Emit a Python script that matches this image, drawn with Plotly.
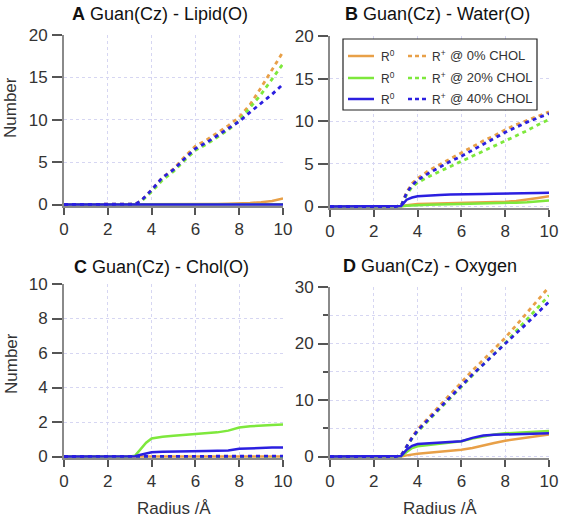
import plotly.graph_objects as go

# ---------------- data ----------------
radius = [0, 3.0, 3.25, 3.5, 3.75, 4.0, 4.5, 5.0, 5.5, 6.0, 6.5, 7.0, 7.5, 8.0, 8.5, 9.0, 9.5, 10.0]

# Panel A: Guan(Cz) - Lipid(O)
lipid_r0_0 = [0, 0, 0, 0, 0, 0, 0, 0, 0, 0.02, 0.04, 0.06, 0.09, 0.12, 0.18, 0.27, 0.42, 0.7]
lipid_r0_20 = [0, 0, 0, 0, 0, 0, 0, 0, 0, 0, 0, 0, 0, 0, 0, 0.01, 0.02, 0.03]
lipid_r0_40 = [0] * 18
lipid_rp_0 = [0, 0, 0.05, 0.4, 1.0, 1.7, 3.2, 4.2, 5.6, 6.9, 7.6, 8.4, 9.3, 10.3, 11.8, 13.8, 15.9, 18.0]
lipid_rp_20 = [0, 0, 0.03, 0.3, 0.9, 1.5, 2.9, 3.9, 5.2, 6.4, 7.1, 7.9, 8.8, 9.9, 11.4, 13.0, 14.8, 16.6]
lipid_rp_40 = [0, 0, 0.05, 0.4, 1.0, 1.7, 3.2, 4.1, 5.4, 6.6, 7.3, 8.1, 8.9, 9.8, 10.9, 11.9, 13.0, 14.2]

# Panel B: Guan(Cz) - Water(O)
water_r0_0 = [0, 0, 0.02, 0.15, 0.25, 0.3, 0.32, 0.35, 0.37, 0.4, 0.42, 0.45, 0.5, 0.55, 0.65, 0.8, 1.0, 1.2]
water_r0_20 = [0, 0, 0.02, 0.1, 0.15, 0.2, 0.22, 0.25, 0.27, 0.3, 0.32, 0.35, 0.38, 0.4, 0.45, 0.5, 0.6, 0.7]
water_r0_40 = [0, 0, 0.05, 0.8, 1.05, 1.2, 1.3, 1.35, 1.4, 1.45, 1.45, 1.48, 1.5, 1.5, 1.52, 1.55, 1.58, 1.6]
water_rp_0 = [0, 0, 0.1, 1.7, 2.7, 3.3, 4.2, 4.9, 5.6, 6.3, 7.0, 7.7, 8.3, 9.0, 9.6, 10.1, 10.6, 11.1]
water_rp_20 = [0, 0, 0.1, 1.4, 2.3, 2.8, 3.5, 4.1, 4.7, 5.3, 5.9, 6.5, 7.1, 7.7, 8.3, 8.9, 9.6, 10.2]
water_rp_40 = [0, 0, 0.1, 1.6, 2.5, 3.1, 3.9, 4.6, 5.3, 5.9, 6.6, 7.3, 8.0, 8.7, 9.3, 9.9, 10.4, 10.9]

# Panel C: Guan(Cz) - Chol(O)
chol_r0_0 = [0] * 18
chol_r0_20 = [0, 0, 0.05, 0.4, 0.8, 1.05, 1.15, 1.2, 1.25, 1.3, 1.35, 1.4, 1.5, 1.68, 1.75, 1.8, 1.83, 1.85]
chol_r0_40 = [0, 0, 0.02, 0.1, 0.18, 0.25, 0.28, 0.3, 0.3, 0.31, 0.32, 0.33, 0.35, 0.45, 0.48, 0.5, 0.52, 0.52]
chol_rp_0 = [0] * 18
chol_rp_20 = [0] * 18
chol_rp_40 = [0, 0, 0, 0.01, 0.01, 0.02, 0.02, 0.02, 0.02, 0.02, 0.02, 0.02, 0.02, 0.02, 0.02, 0.02, 0.02, 0.02]

# Panel D: Guan(Cz) - Oxygen
oxy_r0_0 = [0, 0, 0.02, 0.2, 0.35, 0.5, 0.65, 0.8, 1.0, 1.2, 1.5, 2.0, 2.4, 2.8, 3.1, 3.3, 3.6, 3.9]
oxy_r0_20 = [0, 0, 0.05, 0.8, 1.5, 1.8, 2.0, 2.2, 2.4, 2.7, 3.2, 3.6, 3.9, 4.1, 4.2, 4.3, 4.4, 4.5]
oxy_r0_40 = [0, 0, 0.1, 1.2, 1.9, 2.2, 2.3, 2.4, 2.5, 2.7, 3.3, 3.7, 3.85, 3.9, 4.0, 4.05, 4.1, 4.1]
oxy_rp_0 = [0, 0, 0.2, 1.9, 3.5, 4.8, 6.9, 9.0, 11.1, 13.2, 15.2, 17.1, 19.1, 21.0, 23.2, 25.4, 27.7, 30.0]
oxy_rp_20 = [0, 0, 0.2, 1.7, 3.2, 4.4, 6.4, 8.4, 10.4, 12.4, 14.4, 16.3, 18.2, 20.1, 22.2, 24.3, 26.4, 28.5]
oxy_rp_40 = [0, 0, 0.2, 1.8, 3.3, 4.6, 6.6, 8.6, 10.6, 12.6, 14.5, 16.3, 18.1, 19.9, 21.8, 23.6, 25.5, 27.4]

panel_letters = ["A", "B", "C", "D"]
panel_titles = ["Guan(Cz) - Lipid(O)", "Guan(Cz) - Water(O)", "Guan(Cz) - Chol(O)", "Guan(Cz) - Oxygen"]
chol_labels = ["@ 0% CHOL", "@ 20% CHOL", "@ 40% CHOL"]
x_ticks = [0, 2, 4, 6, 8, 10]
y_max = [20, 20, 10, 30]
y_dtick = [5, 5, 2, 10]

panel_data = [
    [(lipid_r0_0, lipid_rp_0), (lipid_r0_20, lipid_rp_20), (lipid_r0_40, lipid_rp_40)],
    [(water_r0_0, water_rp_0), (water_r0_20, water_rp_20), (water_r0_40, water_rp_40)],
    [(chol_r0_0, chol_rp_0), (chol_r0_20, chol_rp_20), (chol_r0_40, chol_rp_40)],
    [(oxy_r0_0, oxy_rp_0), (oxy_r0_20, oxy_rp_20), (oxy_r0_40, oxy_rp_40)],
]

# ---------------- styling ----------------
W, H = 561, 521
colors = ["#E8A048", "#7EE83C", "#2B1FE0"]
FONT = "Liberation Sans, Arial, sans-serif"
AXIS_COL = "#8a8a8a"
TICK_COL = "#555555"
GRID_COL = "#d6d6f2"
TXT = "#333333"

# plot-area pixel boxes: (left, right, top, bottom)
boxes = [(64, 283, 35, 206), (330, 549, 36, 208), (64, 283, 284, 458), (330, 549, 287, 458)]
title_centers = [(160, 14), (437, 14), (161, 267), (430, 266)]
ytitle_pos = [(11, 108), (11, 364)]
xtitle_pos = [(174, 508), (440, 508)]


def px(x):
    return x / W


def py(y):
    return 1 - y / H


fig = go.Figure()
layout = dict(
    width=W, height=H,
    margin=dict(l=0, r=0, t=0, b=0, autoexpand=False),
    paper_bgcolor="white", plot_bgcolor="white",
    showlegend=False,
    font=dict(family=FONT, color=TXT),
)
annotations = []
shapes = []

for i in range(4):
    xa = "x" if i == 0 else f"x{i+1}"
    ya = "y" if i == 0 else f"y{i+1}"
    for j in range(3):
        r0, rp = panel_data[i][j]
        fig.add_trace(go.Scatter(x=radius, y=r0, mode="lines", xaxis=xa, yaxis=ya,
                                 line=dict(color=colors[j], width=2.5), hoverinfo="skip"))
        fig.add_trace(go.Scatter(x=radius, y=rp, mode="lines", xaxis=xa, yaxis=ya,
                                 line=dict(color=colors[j], width=2.8, dash="4px,4px"), hoverinfo="skip"))
    l, r, t, b = boxes[i]
    ymax = y_max[i]
    pad = ymax / (b - t) * 1.5
    xkey = "xaxis" if i == 0 else f"xaxis{i+1}"
    ykey = "yaxis" if i == 0 else f"yaxis{i+1}"
    layout[xkey] = dict(
        domain=[px(l), px(r)], anchor=ya, range=[0, 10], automargin=False,
        tickvals=x_ticks, ticks="outside", ticklen=7, tickwidth=1.5, tickcolor=TICK_COL,
        showline=True, linecolor=AXIS_COL, linewidth=2, layer="below traces",
        showgrid=True, gridcolor=GRID_COL, griddash="dot", gridwidth=1,
        zeroline=False, tickfont=dict(size=17, color=TXT, family=FONT),
        fixedrange=True,
    )
    ydef = dict(
        domain=[py(b), py(t)], anchor=xa, range=[-pad, ymax], automargin=False,
        tick0=0, dtick=y_dtick[i], ticks="outside", ticklen=10, tickwidth=1.5, tickcolor=TICK_COL,
        showline=True, linecolor=AXIS_COL, linewidth=2, layer="below traces",
        showgrid=True, gridcolor=GRID_COL, griddash="dot", gridwidth=1,
        zeroline=False, tickfont=dict(size=17, color=TXT, family=FONT),
        ticklabelstandoff=1,
        fixedrange=True,
    )
    if i == 3:
        ydef["minor"] = dict(dtick=5, ticks="outside", ticklen=5, tickcolor=TICK_COL,
                             showgrid=True, gridcolor=GRID_COL, griddash="dot")
    layout[ykey] = ydef
    cx, cy = title_centers[i]
    annotations.append(dict(
        x=px(cx), y=py(cy), xref="paper", yref="paper", showarrow=False,
        xanchor="center", yanchor="middle",
        text=f"<b>{panel_letters[i]}</b> {panel_titles[i]}",
        font=dict(size=18, color="#111111", family=FONT),
    ))

# axis titles
for (tx, ty) in ytitle_pos:
    annotations.append(dict(
        x=px(tx), y=py(ty), xref="paper", yref="paper", showarrow=False,
        xanchor="center", yanchor="middle", textangle=-90, text="Number",
        font=dict(size=17, color=TXT, family=FONT),
    ))
for (tx, ty) in xtitle_pos:
    annotations.append(dict(
        x=px(tx), y=py(ty), xref="paper", yref="paper", showarrow=False,
        xanchor="center", yanchor="middle", text="Radius /Å",
        font=dict(size=17, color=TXT, family=FONT),
    ))

# ---------------- legend (drawn inside panel B) ----------------
shapes.append(dict(type="rect", xref="paper", yref="paper",
                   x0=px(343), x1=px(537), y0=py(110), y1=py(39),
                   line=dict(color="#222222", width=1.2), fillcolor="white", layer="above"))
row_y = [56, 78, 99]
for j in range(3):
    yy = py(row_y[j])
    shapes.append(dict(type="line", xref="paper", yref="paper", x0=px(348), x1=px(374), y0=yy, y1=yy,
                       line=dict(color=colors[j], width=2.5), layer="above"))
    shapes.append(dict(type="line", xref="paper", yref="paper", x0=px(408), x1=px(428), y0=yy, y1=yy,
                       line=dict(color=colors[j], width=2.5, dash="4px,3px"), layer="above"))
    annotations.append(dict(x=px(379), y=yy, xref="paper", yref="paper", showarrow=False,
                            xanchor="left", yanchor="middle", text="R<sup>0</sup>",
                            font=dict(size=12, color=TXT, family=FONT)))
    annotations.append(dict(x=px(430), y=yy, xref="paper", yref="paper", showarrow=False,
                            xanchor="left", yanchor="middle", text="R<sup>+</sup>",
                            font=dict(size=12, color=TXT, family=FONT)))
    annotations.append(dict(x=px(448), y=yy, xref="paper", yref="paper", showarrow=False,
                            xanchor="left", yanchor="middle", text=chol_labels[j],
                            font=dict(size=13, color=TXT, family=FONT)))

layout["annotations"] = annotations
layout["shapes"] = shapes
fig.update_layout(**layout)
fig.write_html("out.html", config={"displayModeBar": False},
               post_script="document.body.style.margin='0px';")
